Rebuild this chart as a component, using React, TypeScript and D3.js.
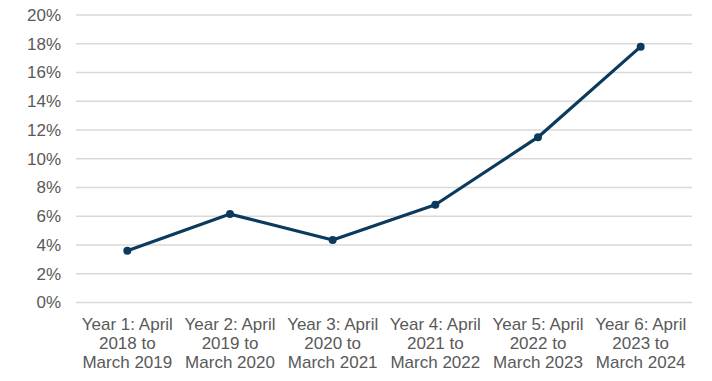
import React from 'react'
import { scaleBand, scaleLinear, line } from 'd3'

const WIDTH = 712
const HEIGHT = 381

const categories = [
  ['Year 1: April', '2018 to', 'March 2019'],
  ['Year 2: April', '2019 to', 'March 2020'],
  ['Year 3: April', '2020 to', 'March 2021'],
  ['Year 4: April', '2021 to', 'March 2022'],
  ['Year 5: April', '2022 to', 'March 2023'],
  ['Year 6: April', '2023 to', 'March 2024'],
]
const values = [3.6, 6.15, 4.35, 6.8, 11.5, 17.8]
const yTicks = [0, 2, 4, 6, 8, 10, 12, 14, 16, 18, 20]

const LEFT = 76
const RIGHT = 692
const TOP = 15
const BOTTOM = 302.5

const FONT = '"Liberation Sans", Arial, sans-serif'
const TEXT = '#595959'
const LINE = '#0b3a5d'

const App = () => {
  const keys = categories.map((_, i) => String(i))
  const xScale = scaleBand().domain(keys).range([LEFT, RIGHT])
  const yScale = scaleLinear().domain([0, 20]).range([BOTTOM, TOP])
  const cx = (i: number) => (xScale(String(i)) as number) + xScale.bandwidth() / 2

  const path = line<number>()
    .x((_, i) => cx(i))
    .y(d => yScale(d))

  return (
    <svg width={WIDTH} height={HEIGHT} style={{ position: 'absolute', left: 0, top: 0 }}>
      <rect width={WIDTH} height={HEIGHT} fill="white" />
      <g data-grid>
        {yTicks.map(t => (
          <line key={t} x1={LEFT} x2={RIGHT} y1={yScale(t)} y2={yScale(t)}
            stroke="#d9d9d9" strokeWidth={1.3} />
        ))}
      </g>
      <g data-y-labels fontFamily={FONT} fontSize={17} fill={TEXT} textAnchor="end">
        {yTicks.map(t => (
          <text key={t} x={61} y={yScale(t)} dy="0.35em">{t}%</text>
        ))}
      </g>
      <g data-x-labels fontFamily={FONT} fontSize={17} fill={TEXT} textAnchor="middle">
        {categories.map((lines, i) => (
          <text key={i} x={cx(i)} y={330}>
            {lines.map((l, j) => (
              <tspan key={j} x={cx(i)} dy={j === 0 ? 0 : 19}>{l}</tspan>
            ))}
          </text>
        ))}
      </g>
      <path d={path(values) || ''} fill="none" stroke={LINE} strokeWidth={3.2} strokeLinejoin="round" />
      {values.map((v, i) => (
        <circle key={i} cx={cx(i)} cy={yScale(v)} r={4} fill={LINE} />
      ))}
    </svg>
  )
}

export default App
